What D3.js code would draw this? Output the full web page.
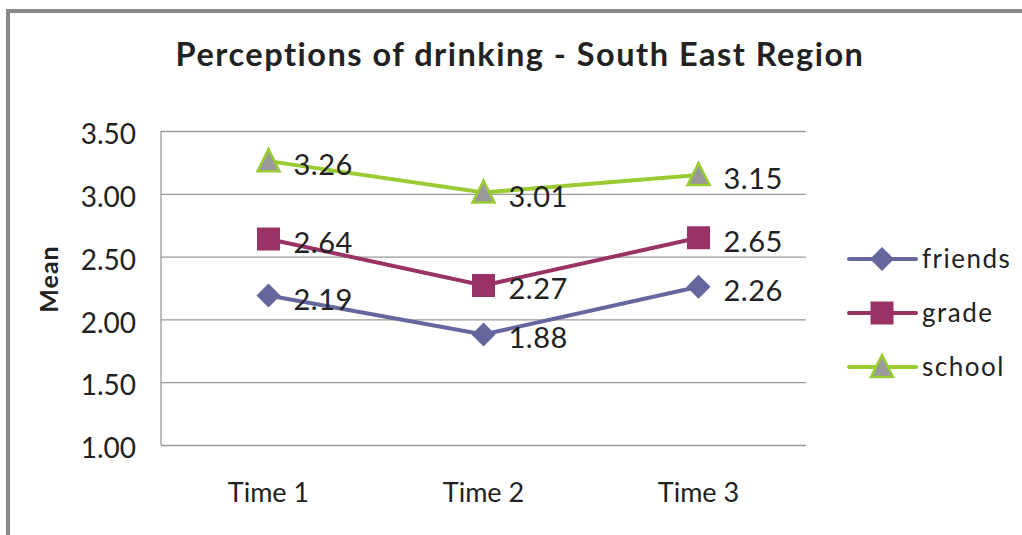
<!DOCTYPE html>
<html><head><meta charset="utf-8">
<script src="https://cdn.jsdelivr.net/npm/d3@7"></script>
<style>body{margin:0;background:#fff}svg{display:block}text{font-family:Lato,"Open Sans",sans-serif;fill:#222}</style>
</head><body>
<svg id="c" width="1022" height="535"></svg>
<script>
const categories = ["Time 1", "Time 2", "Time 3"];
const friends = [2.19, 1.88, 2.26];
const grade = [2.64, 2.27, 2.65];
const school = [3.26, 3.01, 3.15];
const yTicks = [1.0, 1.5, 2.0, 2.5, 3.0, 3.5];
const seriesNames = ["friends", "grade", "school"];

const series = [
  {name: seriesNames[0], values: friends, color: "#66669E", shape: "diamond"},
  {name: seriesNames[1], values: grade, color: "#993366", shape: "square"},
  {name: seriesNames[2], values: school, color: "#99CC33", shape: "triangle"}
];

const svg = d3.select("#c");
svg.append("rect").attr("x", 8).attr("y", 11).attr("width", 1030).attr("height", 540)
  .attr("fill", "none").attr("stroke", "#888").attr("stroke-width", 4);

const L = 161, R = 806, T = 131, B = 445;
const x = d3.scaleBand().domain(categories).range([L, R]);
const y = d3.scaleLinear().domain([1, 3.5]).range([B, T]);

svg.append("text").attr("x", 520).attr("y", 66).attr("text-anchor", "middle")
  .style("font-weight", "bold").style("font-size", "32.5px").style("letter-spacing", "1.5px").style("fill", "#222")
  .text("Perceptions of drinking - South East Region");

const gy = svg.append("g").attr("transform", `translate(${L},0)`)
  .call(d3.axisLeft(y).tickValues(yTicks).tickFormat(d3.format(".2f")).tickSize(-(R - L)).tickPadding(25));
gy.select(".domain").remove();
gy.selectAll(".tick line").attr("stroke", "#999").attr("stroke-width", 1.3);
gy.selectAll(".tick text").style("font-size", "28px").style("font-family", "Lato,sans-serif").attr("fill", "#222").attr("dy", "0.45em");
svg.append("line").attr("x1", L).attr("x2", L).attr("y1", T).attr("y2", B).attr("stroke", "#999").attr("stroke-width", 1.3);

const gx = svg.append("g").attr("transform", `translate(0,${B})`)
  .call(d3.axisBottom(x).tickSize(0).tickPadding(38));
gx.select(".domain").remove();
gx.selectAll(".tick text").style("font-size", "27px").style("font-family", "Lato,sans-serif").attr("fill", "#222");

svg.append("text").attr("transform", "translate(58,279) rotate(-90)").attr("text-anchor", "middle")
  .style("font-weight", "bold").style("font-size", "25px").style("letter-spacing", "1px").text("Mean");

const cx = c => x(c) + x.bandwidth() / 2;
const line = d3.line().x((d, i) => cx(categories[i])).y(d => y(d));

function marker(g, shape, color, px, py) {
  if (shape === "diamond") {
    g.append("path").attr("d", `M${px},${py-12}L${px+12},${py}L${px},${py+12}L${px-12},${py}Z`).attr("fill", color);
  } else if (shape === "square") {
    g.append("rect").attr("x", px - 11.5).attr("y", py - 11.5).attr("width", 23).attr("height", 23).attr("fill", color);
  } else {
    g.append("path").attr("d", `M${px},${py-12}L${px+11},${py+10}L${px-11},${py+10}Z`)
      .attr("fill", "#999").attr("stroke", color).attr("stroke-width", 2.5);
  }
}

series.forEach(s => {
  const g = svg.append("g");
  g.append("path").datum(s.values).attr("d", line).attr("fill", "none")
    .attr("stroke", s.color).attr("stroke-width", 4);
  s.values.forEach((v, i) => {
    marker(g, s.shape, s.color, cx(categories[i]), y(v));
  });
  s.values.forEach((v, i) => {
    g.append("text").attr("x", cx(categories[i]) + 25).attr("y", y(v) + 14)
      .style("font-size", "29px").style("letter-spacing", "0.5px").text(d3.format(".2f")(v));
  });
});

const leg = svg.append("g");
series.forEach((s, i) => {
  const ly = 259 + i * 54;
  leg.append("line").attr("x1", 849).attr("x2", 916).attr("y1", ly).attr("y2", ly)
    .attr("stroke", s.color).attr("stroke-width", 4).attr("stroke-linecap", "round");
  marker(leg, s.shape, s.color, 882, ly);
  leg.append("text").attr("x", 922).attr("y", ly + 9).style("font-size", "26px").style("letter-spacing", "1.5px").text(s.name);
});
</script>
</body></html>
